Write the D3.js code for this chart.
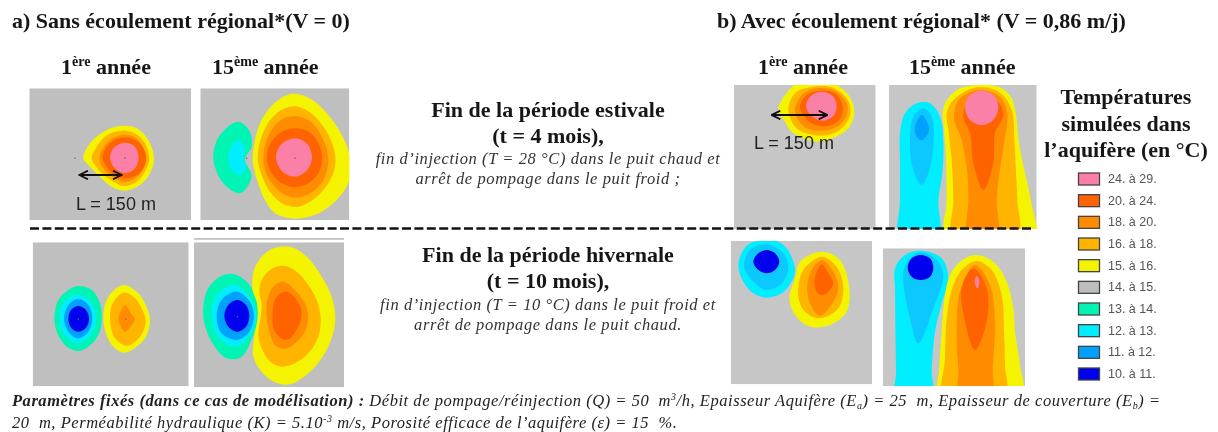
<!DOCTYPE html>
<html lang="fr">
<head>
<meta charset="utf-8">
<script src="https://cdn.jsdelivr.net/npm/d3@7"></script>
<style>
    html, body { margin: 0; background: #fff; }
    svg { display: block; }
    text { font-family: "Liberation Serif", serif; fill: #161616; white-space: pre; }
    .title { font-size: 22px; font-weight: bold; }
    .year { font-size: 22px; font-weight: bold; }
    .heading { font-size: 22px; font-weight: bold; text-anchor: middle; }
    .note { font-size: 16.5px; letter-spacing: 0.58px; font-style: italic; text-anchor: middle; fill: #333; }
    .footer { font-size: 16.5px; letter-spacing: 0.54px; font-style: italic; fill: #222; }
    .legend-title { font-size: 22px; font-weight: bold; text-anchor: middle; }
    .legend-label { font-family: "Liberation Sans", sans-serif; font-size: 12.5px; fill: #555; }
    .distance { font-family: "Liberation Sans", sans-serif; font-size: 18px; fill: #222; }
</style>
</head>
<body>
<svg id="chart" width="1218" height="432"></svg>
<script>
// Legend classes, warmest first
const legendLabels = ['24. à 29.', '20. à 24.', '18. à 20.', '16. à 18.', '15. à 16.',
    '14. à 15.', '13. à 14.', '12. à 13.', '11. à 12.', '10. à 11.'];
const legendColors = ['#fb80a8', '#ff6400', '#ff8c00', '#ffb400', '#f4f400',
    '#bdbdbd', '#00f5b4', '#00eeff', '#00a0ff', '#0000ee'];
// The maps with flow are smoothed, so a blend of 12-13 and 11-12 shows up there
const blendedBlue = '#10c8ff';
const PINK = 0, DEEP = 1, ORANGE = 2, AMBER = 3, YELLOW = 4, TEAL = 6, CYAN = 7, BLUE = 8, NAVY = 9, LIGHT = 10;

// Digitised isotherm outlines, [band, points] from outermost to innermost
const summerYear1NoFlow = [
    [YELLOW, [[250,475],[270,430],[310,395],[360,378],[410,385],[445,420],[462,475],[450,520],[420,555],[375,572],[335,560],[300,530],[265,495]]],
    [AMBER, [[275,475],[290,440],[322,405],[365,392],[405,400],[435,430],[448,475],[435,515],[410,545],[375,558],[340,545],[305,520],[285,495]]],
    [ORANGE, [[298,472],[325,425],[365,405],[405,412],[428,440],[440,478],[425,515],[400,538],[375,547],[340,532],[310,505]]],
    [DEEP, [[308,472],[330,430],[375,412],[420,430],[438,475],[420,518],[375,535],[335,518]]],
    [PINK, [[330,470],[345,440],[375,428],[405,440],[416,472],[405,505],[375,520],[345,505]]]
];
const summerYear15NoFlow = [
    [TEAL, [[640,460],[660,405],[715,365],[750,395],[755,440],[735,478],[755,530],[720,580],[670,550],[645,500]]],
    [CYAN, [[685,475],[695,440],[720,422],[735,450],[730,475],[738,500],[720,525],[695,510]]],
    [YELLOW, [[758,475],[765,420],[778,375],[800,335],[835,300],[870,282],[905,285],[945,305],[985,345],[1020,395],[1045,450],[1052,500],[1045,550],[1015,595],[970,632],[920,652],[870,655],[825,640],[795,600],[778,560],[765,520]]],
    [AMBER, [[773,475],[785,410],[815,355],[855,325],[895,320],[940,345],[980,395],[1003,450],[1005,500],[985,550],[945,595],[895,620],[850,612],[810,575],[785,525]]],
    [ORANGE, [[790,475],[800,420],[825,375],[860,352],[900,350],[940,372],[970,420],[985,475],[975,530],[945,570],[900,592],[855,585],[820,555],[798,520]]],
    [DEEP, [[800,475],[812,430],[840,398],[885,385],[930,398],[958,435],[967,478],[955,520],[925,550],[885,562],[845,550],[815,520]]],
    [PINK, [[828,472],[842,435],[885,415],[922,432],[936,472],[922,510],[885,530],[845,512]]]
];
const winterYear1NoFlow = [
    [TEAL, [[163,280],[175,225],[205,195],[235,183],[275,195],[300,235],[305,285],[295,330],[265,365],[235,378],[200,365],[172,325]]],
    [CYAN, [[178,282],[192,232],[235,208],[275,235],[288,282],[275,325],[235,355],[195,330]]],
    [BLUE, [[192,282],[205,240],[235,222],[265,240],[277,282],[265,320],[235,340],[205,320]]],
    [NAVY, [[205,282],[213,255],[235,243],[258,255],[267,282],[258,308],[235,320],[213,308]]],
    [YELLOW, [[310,270],[325,215],[370,180],[415,205],[445,260],[450,290],[435,340],[395,375],[370,383],[335,360],[315,315]]],
    [AMBER, [[330,285],[338,235],[370,203],[405,220],[430,262],[437,290],[420,335],[380,362],[345,340]]],
    [ORANGE, [[355,282],[375,240],[395,268],[405,282],[395,300],[375,320],[360,300]]]
];
const winterYear15NoFlow = [
    [TEAL, [[610,275],[622,195],[660,155],[700,147],[745,175],[770,230],[775,275],[760,330],[725,395],[680,400],[635,350]]],
    [CYAN, [[635,275],[650,210],[705,180],[750,220],[770,275],[745,335],[705,365],[655,335]]],
    [BLUE, [[650,275],[665,225],[710,200],[750,230],[762,275],[745,325],[710,345],[665,325]]],
    [NAVY, [[673,272],[685,240],[712,225],[738,240],[748,272],[738,305],[712,320],[685,305]]],
    [YELLOW, [[758,195],[762,135],[790,90],[825,68],[880,68],[925,100],[965,155],[995,215],[1006,280],[995,340],[965,400],[925,445],[870,478],[825,472],[785,440],[760,395],[762,340],[773,275],[770,230]]],
    [AMBER, [[778,200],[785,165],[810,135],[850,122],[890,140],[925,180],[950,225],[962,280],[955,335],[925,385],[885,415],[845,425],[810,410],[785,370],[775,330],[782,275],[785,240]]],
    [ORANGE, [[800,270],[803,220],[820,185],[850,170],[885,195],[915,235],[925,275],[915,320],[885,355],[855,372],[825,360],[808,320]]],
    [DEEP, [[818,260],[830,215],[860,200],[890,225],[905,265],[895,305],[860,345],[825,320]]]
];
const summerYear1Flow = [
    [YELLOW, [[175,330],[195,285],[240,245],[330,245],[385,285],[403,335],[385,385],[345,412],[290,425],[215,395],[195,365]]],
    [AMBER, [[205,330],[225,280],[270,262],[335,262],[380,295],[392,335],[375,375],[335,402],[280,405],[230,385]]],
    [ORANGE, [[225,330],[245,285],[290,265],[345,272],[380,310],[380,345],[355,378],[310,392],[260,385],[235,360]]],
    [DEEP, [[240,325],[260,285],[300,272],[345,280],[368,320],[358,360],[320,378],[275,370]]],
    [PINK, [[258,320],[270,290],[305,275],[340,290],[350,320],[338,350],[305,362],[272,345]]]
];
const summerYear15Flow = [
    [CYAN, [[540,720],[540,600],[540,480],[540,400],[555,340],[590,310],[630,310],[660,350],[670,420],[667,520],[655,600],[655,720]]],
    [LIGHT, [[570,440],[580,350],[610,325],[635,350],[640,440],[625,520],[605,555],[580,510]]],
    [BLUE, [[585,380],[605,345],[625,375],[625,400],[605,420],[590,410]]],
    [YELLOW, [[680,720],[680,600],[678,480],[672,390],[668,335],[682,298],[720,265],[780,255],[840,262],[875,295],[888,345],[897,430],[915,520],[932,600],[942,720]]],
    [AMBER, [[700,720],[700,600],[695,480],[685,390],[680,340],[700,300],[770,262],[840,278],[875,330],[883,420],[888,520],[892,600],[892,720]]],
    [ORANGE, [[745,720],[745,600],[742,520],[725,420],[702,350],[720,295],[780,270],[840,290],[862,340],[852,430],[838,520],[830,600],[830,720]]],
    [DEEP, [[790,570],[760,490],[750,400],[730,350],[745,300],[785,280],[830,300],[850,345],[825,400],[820,490]]],
    [PINK, [[735,320],[750,285],[785,272],[820,285],[835,320],[820,360],[785,375],[750,360]]]
];
const winterYear1Flow = [
    [CYAN, [[55,125],[62,90],[85,58],[115,48],[170,48],[200,70],[218,105],[225,140],[212,175],[185,205],[140,218],[100,205],[70,170]]],
    [LIGHT, [[72,125],[90,75],[140,58],[190,85],[205,130],[185,175],[140,195],[100,170]]],
    [NAVY, [[100,110],[115,85],[140,75],[165,85],[178,110],[165,135],[140,145],[115,135]]],
    [YELLOW, [[208,220],[225,160],[240,110],[305,80],[360,105],[388,190],[380,260],[330,300],[270,305],[225,270]]],
    [AMBER, [[235,215],[250,135],[305,95],[350,125],[370,190],[355,250],[300,280],[255,260]]],
    [ORANGE, [[262,200],[270,145],[305,105],[340,140],[355,190],[340,230],[300,272],[275,245]]],
    [DEEP, [[283,170],[295,130],[305,118],[325,145],[340,175],[325,200],[305,210],[290,200]]]
];
const winterYear15Flow = [
    [CYAN, [[528,520],[528,440],[526,300],[525,190],[525,130],[555,90],[610,78],[665,100],[685,160],[665,235],[645,320],[637,400],[635,440],[635,520]]],
    [LIGHT, [[550,140],[570,100],[605,82],[650,105],[670,150],[640,250],[595,355],[570,280]]],
    [NAVY, [[563,128],[575,100],[602,90],[630,100],[640,128],[630,155],[602,165],[575,155]]],
    [YELLOW, [[655,520],[657,440],[665,320],[672,230],[690,150],[720,110],[765,90],[820,110],[860,170],[880,250],[885,320],[900,420],[905,520]]],
    [AMBER, [[672,520],[675,400],[680,280],[700,180],[730,130],[770,108],[815,135],[845,210],[852,320],[855,420],[855,520]]],
    [ORANGE, [[720,520],[715,430],[710,350],[720,200],[765,120],[810,180],[825,300],[818,430],[815,520]]],
    [DEEP, [[765,375],[735,290],[725,190],[760,130],[800,190],[800,290]]],
    [PINK, [[770,152],[778,170],[772,190],[764,170]]]
];

// Wells seen in each map, in the same digitised units
const wellsSummerYear1NoFlow = [[225,475],[375,475]];
const wellsSummerYear15NoFlow = [[740,475],[885,475]];
const wellsWinterYear1NoFlow = [[235,282],[377,282]];
const wellsWinterYear15NoFlow = [[712,275]];

const subtitles = ['ère', 'ème'];
const summerNotes = ['fin d’injection (T = 28 °C) dans le puit chaud et', 'arrêt de pompage dans le puit froid ;'];
const winterNotes = ['fin d’injection (T = 10 °C) dans le puit froid et', 'arrêt de pompage dans le puit chaud.'];
const legendTitle = ['Températures', 'simulées dans', 'l’aquifère (en °C)'];

const svg = d3.select('#chart');
const defs = svg.append('defs');
defs.append('filter').attr('id', 'soft')
    .attr('x', '-2%').attr('y', '-2%').attr('width', '104%').attr('height', '104%')
    .append('feGaussianBlur').attr('stdDeviation', 0.7);
defs.append('filter').attr('id', 'softText')
    .append('feGaussianBlur').attr('stdDeviation', 0.4);
defs.append('marker').attr('id', 'head').attr('viewBox', '0 0 10 10')
    .attr('refX', 9).attr('refY', 5).attr('markerWidth', 6).attr('markerHeight', 6)
    .attr('orient', 'auto-start-reverse').attr('markerUnits', 'strokeWidth')
    .append('path').attr('d', 'M1,1 L9,5 L1,9').attr('fill', 'none').attr('stroke', '#111').attr('stroke-width', 1.6);

const root = svg.append('g');
const maps = root.append('g').attr('filter', 'url(#soft)');
const labels = root.append('g').attr('filter', 'url(#softText)');

/**
 * Draws one map: gray background, clipped isotherm bands and wells.
 * domain is the digitised extent, box the place on the page.
 */
function drawMap(id, contours, domain, box, gray, wells) {
    const x = d3.scaleLinear().domain(domain.slice(0, 2)).range(box.slice(0, 2)),
        y = d3.scaleLinear().domain(domain.slice(2, 4)).range(box.slice(2, 4));
    const outline = d3.line().x(d => x(d[0])).y(d => y(d[1])).curve(d3.curveCatmullRomClosed.alpha(0.5));

    defs.append('clipPath').attr('id', id).append('rect')
        .attr('x', box[0]).attr('y', box[2])
        .attr('width', box[1] - box[0]).attr('height', box[3] - box[2]);

    const g = maps.append('g').attr('clip-path', `url(#${id})`);
    g.append('rect')
        .attr('x', box[0]).attr('y', box[2])
        .attr('width', box[1] - box[0]).attr('height', box[3] - box[2])
        .attr('fill', gray);
    g.selectAll('path').data(contours).join('path')
        .attr('d', d => outline(d[1]))
        .attr('fill', d => d[0] === LIGHT ? blendedBlue : legendColors[d[0]]);
    g.selectAll('circle').data(wells).join('circle')
        .attr('cx', d => x(d[0])).attr('cy', d => y(d[1])).attr('r', 0.8)
        .attr('fill', '#7a5a80');
    return { x, y };
}

const grayA = '#bfbfbf', grayB = '#c6c6c6';
const a1 = drawMap('a1', summerYear1NoFlow, [88, 573, 265, 660], [29.3, 191, 88.3, 220], grayA, wellsSummerYear1NoFlow);
drawMap('a2', summerYear15NoFlow, [601, 1048, 265, 660], [200.3, 349.3, 88.3, 220], grayA, wellsSummerYear15NoFlow);
drawMap('a3', winterYear1NoFlow, [98, 566, 52, 484], [32.7, 188.7, 242.3, 386.3], grayA, wellsWinterYear1NoFlow);
drawMap('a4', winterYear15NoFlow, [582, 1032, 52, 487], [194, 344, 242.3, 387.3], grayA, wellsWinterYear15NoFlow);
const b1 = drawMap('b1', summerYear1Flow, [42, 467, 255, 687], [734, 875.7, 85, 229], grayB, []);
drawMap('b2', summerYear15Flow, [507, 950, 255, 687], [889, 1036.7, 85, 229], grayB, []);
drawMap('b3', winterYear1Flow, [32, 456, 48, 478], [730.7, 872, 241, 384.3], grayB, []);
drawMap('b4', winterYear15Flow, [488, 915, 70, 483], [882.7, 1025, 248.3, 386], grayB, []);

// Thin sliver left above the last no-flow map
maps.append('rect').attr('x', 194).attr('y', 238).attr('width', 150).attr('height', 1.8).attr('fill', '#c4c4c4');

// L = 150 m arrows and their labels
function drawDistance(scales, from, to, level, textX, textY) {
    root.append('line')
        .attr('x1', scales.x(from)).attr('x2', scales.x(to))
        .attr('y1', scales.y(level)).attr('y2', scales.y(level))
        .attr('stroke', '#111').attr('stroke-width', 1.8)
        .attr('marker-start', 'url(#head)').attr('marker-end', 'url(#head)');
    labels.append('text').attr('class', 'distance')
        .attr('x', textX).attr('y', textY).text('L = 150 m');
}
drawDistance(a1, 238, 365, 525, 76, 210);
drawDistance(b1, 155, 322, 345, 754, 149);

// Separator between the two seasons
root.append('line')
    .attr('x1', 30).attr('x2', 1033).attr('y1', 228.5).attr('y2', 228.5)
    .attr('stroke', '#111').attr('stroke-width', 2.4).attr('stroke-dasharray', '9 3.4');

// Titles
labels.append('text').attr('class', 'title').attr('x', 12).attr('y', 28).text('a) Sans écoulement régional*(V = 0)');
labels.append('text').attr('class', 'title').attr('x', 717).attr('y', 28).text('b) Avec écoulement régional* (V = 0,86 m/j)');

function drawYear(x, number, suffix) {
    const t = labels.append('text').attr('class', 'year').attr('x', x).attr('y', 74);
    t.append('tspan').text(number);
    t.append('tspan').attr('dy', -8).style('font-size', '14px').text(suffix);
    t.append('tspan').attr('dy', 8).text(' année');
}
drawYear(61, '1', subtitles[0]);
drawYear(212, '15', subtitles[1]);
drawYear(758, '1', subtitles[0]);
drawYear(909, '15', subtitles[1]);

// Central captions
function drawCaption(title, period, notes, ys) {
    labels.append('text').attr('class', 'heading').attr('x', 548).attr('y', ys[0]).text(title);
    labels.append('text').attr('class', 'heading').attr('x', 548).attr('y', ys[1]).text(period);
    labels.append('text').attr('class', 'note').attr('x', 548).attr('y', ys[2]).text(notes[0]);
    labels.append('text').attr('class', 'note').attr('x', 548).attr('y', ys[3]).text(notes[1]);
}
drawCaption('Fin de la période estivale', '(t = 4 mois),', summerNotes, [117, 143, 164, 184]);
drawCaption('Fin de la période hivernale', '(t = 10 mois),', winterNotes, [262, 288, 310, 330]);

// Legend
labels.selectAll('.legend-title').data(legendTitle).join('text')
    .attr('class', 'legend-title').attr('x', 1126)
    .attr('y', (d, i) => 104 + i * 26.5).text(d => d);

const legendY = d3.scalePoint().domain(legendLabels).range([179, 374]);
const legend = root.append('g').selectAll('g').data(legendLabels).join('g')
    .attr('transform', d => `translate(0,${legendY(d)})`);
legend.append('rect')
    .attr('x', 1078.5).attr('y', -6).attr('width', 21).attr('height', 12)
    .attr('fill', (d, i) => legendColors[i])
    .attr('stroke', '#444').attr('stroke-width', 1.3);
legend.append('text').attr('class', 'legend-label')
    .attr('x', 1108).attr('y', 4).text(d => d);

// Fixed parameters
const line1 = labels.append('text').attr('class', 'footer').attr('x', 12).attr('y', 406);
line1.append('tspan').style('font-weight', 'bold').text('Paramètres fixés (dans ce cas de modélisation) : ');
line1.append('tspan').text('Débit de pompage/réinjection (Q) = 50  m');
line1.append('tspan').attr('dy', -6).style('font-size', '10px').text('3');
line1.append('tspan').attr('dy', 6).text('/h, Epaisseur Aquifère (E');
line1.append('tspan').attr('dy', 3).style('font-size', '10px').text('a');
line1.append('tspan').attr('dy', -3).text(') = 25  m, Epaisseur de couverture (E');
line1.append('tspan').attr('dy', 3).style('font-size', '10px').text('b');
line1.append('tspan').attr('dy', -3).text(') =');

const line2 = labels.append('text').attr('class', 'footer').attr('x', 12).attr('y', 428);
line2.append('tspan').text('20  m, Perméabilité hydraulique (K) = 5.10');
line2.append('tspan').attr('dy', -6).style('font-size', '10px').text('-3');
line2.append('tspan').attr('dy', 6).text(' m/s, Porosité efficace de l’aquifère (ε) = 15  %.');
</script>
</body>
</html>
